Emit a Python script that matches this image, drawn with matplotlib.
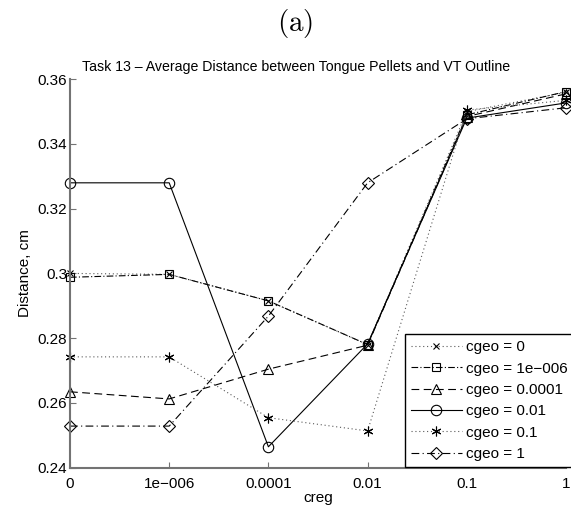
import matplotlib
matplotlib.use("Agg")
import matplotlib.pyplot as plt
import numpy as np

plt.rcParams['font.family'] = ['Liberation Sans', 'DejaVu Sans']
plt.rcParams['mathtext.fontset'] = 'cm'

creg_labels = ['0', '1e\u2212006', '0.0001', '0.01', '0.1', '1']
series_labels = ['cgeo = 0', 'cgeo = 1e\u2212006', 'cgeo = 0.0001',
                 'cgeo = 0.01', 'cgeo = 0.1', 'cgeo = 1']
cgeo_0 = [0.3000, 0.2997, 0.2915, 0.2780, 0.3500, 0.3560]
cgeo_1e6 = [0.2988, 0.2997, 0.2915, 0.2780, 0.3490, 0.3562]
cgeo_1e4 = [0.2634, 0.2612, 0.2704, 0.2778, 0.3485, 0.3555]
cgeo_001 = [0.3280, 0.3280, 0.2464, 0.2782, 0.3480, 0.3527]
cgeo_01 = [0.2742, 0.2742, 0.2554, 0.2513, 0.3505, 0.3535]
cgeo_1 = [0.2528, 0.2528, 0.2868, 0.3280, 0.3478, 0.3512]
yticks = [0.24, 0.26, 0.28, 0.30, 0.32, 0.34, 0.36]
ytick_labels = ['0.24', '0.26', '0.28', '0.3', '0.32', '0.34', '0.36']

series = [cgeo_0, cgeo_1e6, cgeo_1e4, cgeo_001, cgeo_01, cgeo_1]
styles = [
    dict(linestyle=(0, (1, 2.5)), marker='x', markersize=5, color='0.35'),
    dict(linestyle=(0, (6, 2, 1, 2)), marker='s', markersize=5.5),
    dict(linestyle=(0, (7, 4)), marker='^', markersize=7.5),
    dict(linestyle='-', marker='o', markersize=7.5),
    dict(linestyle=(0, (1, 2.5)), marker=(6, 2, 0), markersize=7, color='0.35'),
    dict(linestyle=(0, (7, 3, 1, 3)), marker='D', markersize=6),
]

fs = 11
fig = plt.figure(figsize=(5.71, 5.12), dpi=100)
ax = fig.add_axes([70/571, 1-467.5/512, (566-70)/571, (467.5-79.3)/512])
x = np.arange(len(creg_labels))
for ys, lab, st in zip(series, series_labels, styles):
    kw = dict(color='black', linewidth=0.8, markerfacecolor='none',
              markeredgecolor='black', markeredgewidth=0.8)
    kw.update(st)
    ax.plot(x, ys, label=lab, clip_on=False, **kw)

ax.set_xlim(0, 5)
ax.set_ylim(0.24, 0.36)
ax.set_xticks(x)
ax.set_xticklabels(creg_labels)
ax.set_yticks(yticks)
ax.set_yticklabels(ytick_labels)
for s in ['top', 'right']:
    ax.spines[s].set_visible(False)
for s in ['left', 'bottom']:
    ax.spines[s].set_color('0.45')
    ax.spines[s].set_linewidth(1.5)
ax.tick_params(direction='in', length=4, color='0.45', width=0.8,
               labelsize=fs, pad=2)
ax.tick_params(axis='x', pad=7)
ax.set_xlabel('creg', fontsize=fs, labelpad=0)
ax.set_ylabel('Distance, cm', fontsize=fs, labelpad=4)
fig.text(296/571, 1-67/512,
         'Task 13 \u2013 Average Distance between Tongue Pellets and VT Outline',
         fontsize=10.2, ha='center', va='center')
fig.text(295/571, 1-24/512, r'$\mathrm{(a)}$', fontsize=21, ha='center', va='center')

leg = fig.legend(loc='lower left', bbox_to_anchor=(405/571, 1-467/512),
                 fontsize=fs, handlelength=3.3, labelspacing=0.48,
                 borderaxespad=0, borderpad=0.4, handletextpad=0.3,
                 fancybox=False, framealpha=1, edgecolor='black')
leg.get_frame().set_linewidth(1.0)

fig.savefig('out.png', dpi=100)
